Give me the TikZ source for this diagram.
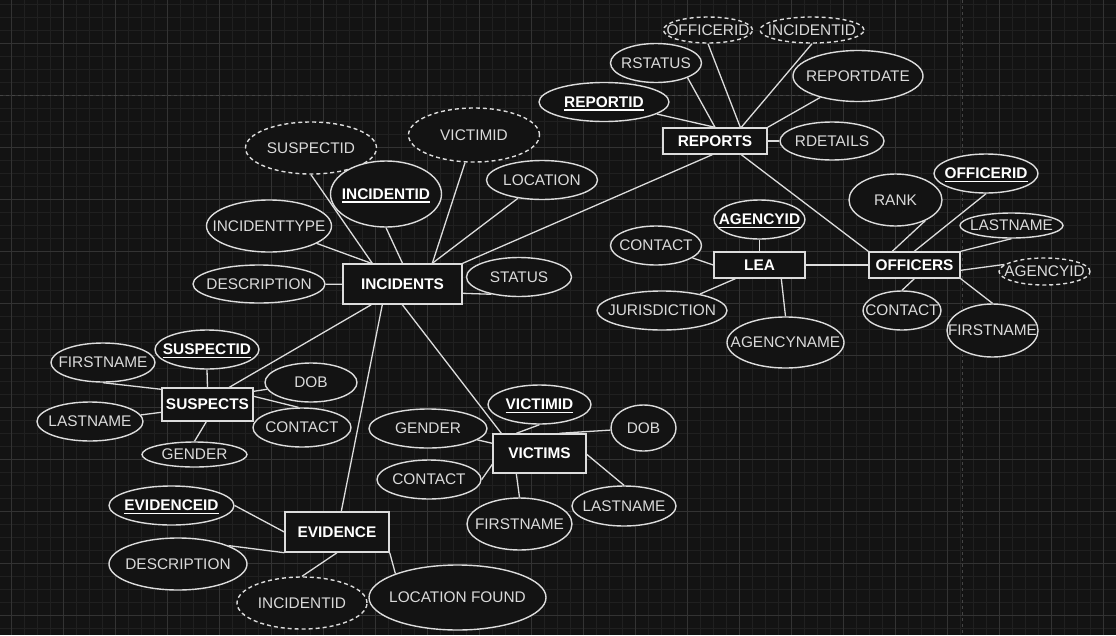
\documentclass[tikz,border=0pt]{standalone}
\usepackage{fontspec}
\setmainfont{Liberation Sans}
\usetikzlibrary{shapes.geometric,calc}
\definecolor{bgc}{HTML}{131313}
\definecolor{minorc}{HTML}{202020}
\definecolor{majorc}{HTML}{333333}
\definecolor{pagec}{HTML}{444444}
\definecolor{linec}{HTML}{DCDCDC}
\definecolor{txtc}{HTML}{DADADA}
\pgfdeclarelayer{gridl}
\pgfdeclarelayer{edges}
\pgfsetlayers{gridl,edges,main}
\newcommand\lbl[1]{\makebox[0pt]{#1}}
\newcommand\keyul[1]{\setbox0=\hbox{#1}\leavevmode\rlap{\copy0}\smash{\raisebox{-3.6pt}{\rule{\wd0}{1.5pt}}}}
\tikzset{
  ent/.style={draw=linec, line width=1.4pt, fill=bgc, rectangle, inner sep=0pt,
    font=\fontsize{15.4}{18}\selectfont\bfseries, text=white},
  attr/.style={draw=linec, line width=1.4pt, fill=bgc, ellipse, inner sep=0pt,
    font=\fontsize{15.4}{18}\selectfont, text=txtc},
  keyattr/.style={attr, font=\fontsize{15.4}{18}\selectfont\bfseries, text=white},
  derived/.style={attr, dash pattern=on 4pt off 3pt},
  conn/.style={draw=linec, line width=1.3pt},
  sz/.style 2 args={minimum width=#1pt, minimum height=#2pt},
}
\begin{document}
\begin{tikzpicture}[x=1pt,y=-1pt]
\useasboundingbox (0,0) rectangle (1116,635);
\begin{pgfonlayer}{gridl}
\fill[bgc] (0,0) rectangle (1116,635);
\foreach \i in {0,...,86} \draw[minorc, line width=0.8pt] ({-1.3+13*\i},0) -- ({-1.3+13*\i},635);
\foreach \i in {0,...,49} \draw[minorc, line width=0.8pt] (0,{4.3+13*\i}) -- (1116,{4.3+13*\i});
\foreach \i in {0,...,21} \draw[majorc, line width=0.8pt] ({11.7+52*\i},0) -- ({11.7+52*\i},635);
\foreach \i in {0,...,12} \draw[majorc, line width=0.8pt] (0,{-8.7+52*\i}) -- (1116,{-8.7+52*\i});
\draw[pagec, line width=0.9pt, dash pattern=on 3pt off 3pt] (0,95.7) -- (1116,95.7);
\draw[pagec, line width=0.9pt, dash pattern=on 3pt off 3pt] (962,0) -- (962,635);
\end{pgfonlayer}

% REPORTS
\node[ent, sz={104}{26}] (rep) at (715,141) {\lbl{REPORTS}};
\node[derived, sz={89}{26}] (roff) at (708,30) {\lbl{OFFICERID}};
\node[derived, sz={104}{26}] (rinc) at (812,30) {\lbl{INCIDENTID}};
\node[attr, sz={91}{39}] (rstat) at (656,63) {\lbl{RSTATUS}};
\node[keyattr, sz={130}{39}] (repid) at (604,102) {\lbl{\keyul{REPORTID}}};
\node[attr, sz={130}{51}] (rdate) at (858,76) {\lbl{REPORTDATE}};
\node[attr, sz={104}{38}] (rdet) at (832,141) {\lbl{RDETAILS}};

% INCIDENTS
\node[ent, sz={119}{40}] (inc) at (402.5,284) {\lbl{INCIDENTS}};
\node[derived, sz={131}{52}] (isusp) at (311,148) {\lbl{SUSPECTID}};
\node[derived, sz={131}{54}] (ivict) at (474,135) {\lbl{VICTIMID}};
\node[keyattr, sz={111}{66}] (incid) at (386,194) {\lbl{\keyul{INCIDENTID}}};
\node[attr, sz={111}{39}] (iloc) at (542,180) {\lbl{LOCATION}};
\node[attr, sz={125}{52}] (ityp) at (269,226) {\lbl{INCIDENTTYPE}};
\node[attr, sz={132}{38}] (idesc) at (259,284) {\lbl{DESCRIPTION}};
\node[attr, sz={105}{39}] (istat) at (519,277) {\lbl{STATUS}};

% LEA
\node[ent, sz={91}{26}] (lea) at (759.5,265) {\lbl{LEA}};
\node[keyattr, sz={91}{39}] (lagid) at (759.5,219.5) {\lbl{\keyul{AGENCYID}}};
\node[attr, sz={91}{39}] (lcont) at (656,245.5) {\lbl{CONTACT}};
\node[attr, sz={130}{39}] (ljur) at (662,310.5) {\lbl{JURISDICTION}};
\node[attr, sz={117}{51}] (lagn) at (785.5,342.5) {\lbl{AGENCYNAME}};

% OFFICERS
\node[ent, sz={91}{26}] (off) at (914.5,265) {\lbl{OFFICERS}};
\node[attr, sz={93}{52}] (orank) at (895.5,200) {\lbl{RANK}};
\node[keyattr, sz={104}{39}] (ooff) at (986,173.5) {\lbl{\keyul{OFFICERID}}};
\node[attr, sz={103}{25}] (olast) at (1011.5,225.5) {\lbl{LASTNAME}};
\node[derived, sz={91}{27}] (oag) at (1044.5,271.5) {\lbl{AGENCYID}};
\node[attr, sz={78}{39}] (ocont) at (902,310.5) {\lbl{CONTACT}};
\node[attr, sz={91}{53}] (ofirst) at (992.5,330.5) {\lbl{FIRSTNAME}};

% SUSPECTS
\node[ent, sz={91}{33}] (sus) at (207.5,404.5) {\lbl{SUSPECTS}};
\node[keyattr, sz={104}{39}] (ssid) at (207,349.5) {\lbl{\keyul{SUSPECTID}}};
\node[attr, sz={104}{39}] (sfirst) at (103,362.5) {\lbl{FIRSTNAME}};
\node[attr, sz={106}{39}] (slast) at (90,421.5) {\lbl{LASTNAME}};
\node[attr, sz={105}{25}] (sgen) at (194.5,454.5) {\lbl{GENDER}};
\node[attr, sz={92}{39}] (sdob) at (311,382.5) {\lbl{DOB}};
\node[attr, sz={98}{39}] (scont) at (302,427.5) {\lbl{CONTACT}};

% VICTIMS
\node[ent, sz={93}{39}] (vic) at (539.5,453.5) {\lbl{VICTIMS}};
\node[keyattr, sz={103}{39}] (vid) at (539.5,404.5) {\lbl{\keyul{VICTIMID}}};
\node[attr, sz={118}{39}] (vgen) at (428,428.5) {\lbl{GENDER}};
\node[attr, sz={65}{46}] (vdob) at (643.5,428) {\lbl{DOB}};
\node[attr, sz={104}{39}] (vcont) at (429,479.5) {\lbl{CONTACT}};
\node[attr, sz={105}{52}] (vfirst) at (519.5,524) {\lbl{FIRSTNAME}};
\node[attr, sz={104}{40}] (vlast) at (624,506) {\lbl{LASTNAME}};

% EVIDENCE
\node[ent, sz={104}{40}] (ev) at (337,532) {\lbl{EVIDENCE}};
\node[keyattr, sz={125}{39}] (evid) at (171.5,505.5) {\lbl{\keyul{EVIDENCEID}}};
\node[attr, sz={138}{52}] (edesc) at (178,564) {\lbl{DESCRIPTION}};
\node[derived, sz={130}{52}] (einc) at (302,603) {\lbl{INCIDENTID}};
\node[attr, sz={177}{65}] (eloc) at (457.5,597.5) {\lbl{LOCATION FOUND}};

\begin{pgfonlayer}{edges}
% reports
\draw[conn] ($(rep.south west)+(50,0)$) -- (inc.north east);
\draw[conn] ($(rep.south west)+(79,0)$) -- (off.north west);
\draw[conn] (repid) -- (rep.north);
\draw[conn] (rstat.335) -- (rep.north);
\draw[conn] (roff.south) -- ($(rep.north west)+(78,0)$);
\draw[conn] (rinc.south) -- ($(rep.north west)+(79,0)$);
\draw[conn] (rdate) -- (rep.north east);
\draw[conn] (rep.east) -- (rdet);
% incidents
\draw[conn] (isusp.south) -- ($(inc.north west)+(30,0)$);
\draw[conn] (incid.south) -- (inc.north);
\draw[conn] (ivict) -- ($(inc.north west)+(90,0)$);
\draw[conn] (iloc) -- ($(inc.north west)+(90,0)$);
\draw[conn] (ityp) -- ($(inc.north west)+(29,0)$);
\draw[conn] (idesc) -- ($(inc.north west)+(0,21)$);
\draw[conn] ($(inc.north east)+(0,30)$) -- (istat.212);
\draw[conn] ($(inc.south west)+(29,0)$) -- ($(sus.north west)+(68,0)$);
\draw[conn] ($(inc.south west)+(40,0)$) -- ($(ev.north west)+(57,0)$);
\draw[conn] ($(inc.south west)+(60,0)$) -- ($(vic.north west)+(9,0)$);
% lea
\draw[conn] (lagid.south) -- (lea.north);
\draw[conn] (lcont) -- (lea.west);
\draw[conn] ($(lea.south west)+(22,0)$) -- (ljur);
\draw[conn] ($(lea.south west)+(68,0)$) -- (lagn.north);
\draw[conn] (lea.east) -- (off.west);
% officers
\draw[conn] (orank.325) -- ($(off.north west)+(24,0)$);
\draw[conn] (ooff.south) -- ($(off.north west)+(46,0)$);
\draw[conn] (olast.south) -- (off.north east);
\draw[conn] ($(off.north east)+(0,19)$) -- (oag.170);
\draw[conn] ($(off.south west)+(46,0)$) -- (ocont.north);
\draw[conn] (off.south east) -- (ofirst.north);
% suspects
\draw[conn] (ssid.south) -- (sus.north);
\draw[conn] (sfirst.south) -- ($(sus.north west)+(0,2)$);
\draw[conn] (slast) -- ($(sus.north west)+(0,25)$);
\draw[conn] ($(sus.south west)+(45,0)$) -- (sgen.north);
\draw[conn] ($(sus.north east)+(0,4)$) -- (sdob);
\draw[conn] ($(sus.north east)+(0,9)$) -- (scont.100);
% victims
\draw[conn] (vid.south) -- ($(vic.north west)+(24,0)$);
\draw[conn] (vgen) -- ($(vic.north west)+(0,10)$);
\draw[conn] ($(vic.north west)+(67,0)$) -- (vdob);
\draw[conn] (vcont.east) -- ($(vic.north west)+(0,31)$);
\draw[conn] ($(vic.south west)+(24,0)$) -- (vfirst.north);
\draw[conn] ($(vic.north east)+(0,21)$) -- (vlast.north);
% evidence
\draw[conn] (evid.east) -- (ev.west);
\draw[conn] (edesc.20) -- (ev.south west);
\draw[conn] (ev.south) -- (einc.north);
\draw[conn] (ev.south east) -- (eloc.159);
\end{pgfonlayer}
\end{tikzpicture}
\end{document}
